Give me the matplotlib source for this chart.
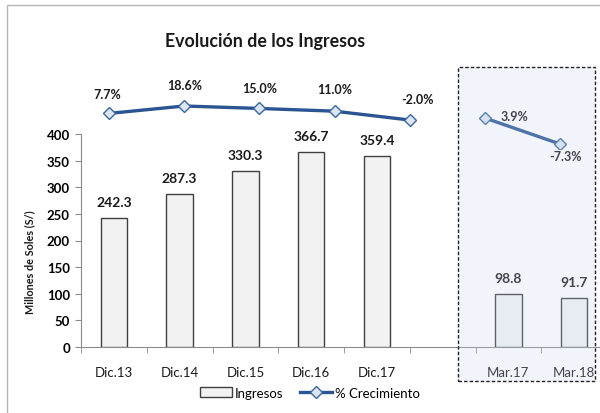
import matplotlib.pyplot as plt
from matplotlib.patches import Rectangle
from matplotlib.lines import Line2D

plt.rcParams['font.family'] = ['Lato', 'DejaVu Sans']

categorias = ["Dic.13", "Dic.14", "Dic.15", "Dic.16", "Dic.17", "", "Mar.17", "Mar.18"]
ingresos = [242.3, 287.3, 330.3, 366.7, 359.4, None, 98.8, 91.7]

crec_anual = [7.7, 18.6, 15.0, 11.0, -2.0]
crec_trim = [3.9, -7.3]
crec_etiquetas = ["7.7%", "18.6%", "15.0%", "11.0%", "-2.0%", "3.9%", "-7.3%"]

W, H = 600, 414


def px(x0, y0, x1, y1):
    # pixel box (top-left origin) -> figure fraction
    return [x0 / W, 1 - y1 / H, (x1 - x0) / W, (y1 - y0) / H]


fig = plt.figure(figsize=(W / 100, H / 100), dpi=100)

gris = '#8c8c8c'
linea_col = '#2a5592'

# barras
ax = fig.add_axes(px(81, 135, 607, 348))
xs = [i for i, v in enumerate(ingresos) if v is not None]
vals = [v for v in ingresos if v is not None]
barras = ax.bar(xs, vals, width=0.4, color='#f2f2f2', edgecolor='#404040', linewidth=1.0, zorder=3)
for x, v in zip(xs, vals):
    ax.annotate(f"{v:.1f}", (x, v), xytext=(0, 11.5), textcoords='offset points',
                ha='center', va='center', fontsize=10, fontweight='bold', color='#1a1a1a')

ax.set_xlim(-0.5, 7.5)
ax.set_ylim(0, 400)
ax.set_yticks(range(0, 401, 50))
ax.set_xticks(range(len(categorias)))
ax.set_xticklabels(categorias, fontsize=9.5, color='#1a1a1a')
ax.set_xticks([i - 0.5 for i in range(len(categorias) + 1)], minor=True)
ax.tick_params(axis='x', which='major', length=0, pad=14)
ax.tick_params(axis='x', which='minor', length=4, color=gris, direction='out')
ax.tick_params(axis='y', length=4, color=gris, labelsize=9.5, pad=4)
for lab in ax.get_yticklabels():
    lab.set_fontweight('bold')
for s in ['top', 'right']:
    ax.spines[s].set_visible(False)
for s in ['left', 'bottom']:
    ax.spines[s].set_color(gris)
ax.set_facecolor('none')

# lineas de crecimiento
estilo = dict(color=linea_col, lw=2.4, marker='D', markersize=6,
              markerfacecolor='#dce6f2', markeredgecolor='#3a66a0', markeredgewidth=1.0)

ax_l1 = fig.add_axes(px(71.4, 100, 597.6, 130))
ax_l1.plot(range(len(crec_anual)), crec_anual, **estilo)
ax_l1.set_xlim(-0.5, 6.5)
ax_l1.set_ylim(-15.2, 28.9)
ax_l1.axis('off')

ax_l2 = fig.add_axes(px(71.4, 110, 597.6, 150))
ax_l2.plot([5, 6], crec_trim, **estilo)
ax_l2.set_xlim(-0.5, 6.5)
ax_l2.set_ylim(-9.46, 7.78)
ax_l2.axis('off')

offs = [(-1.5, 13.7), (0, 15.1), (0, 14.4), (0, 15.8), (5.8, 15.0)]
for i, (v, o) in enumerate(zip(crec_anual, offs)):
    ax_l1.annotate(crec_etiquetas[i], (i, v), xytext=o, textcoords='offset points',
                   ha='center', va='center', fontsize=9, fontweight='bold', color='#1a1a1a',
                   annotation_clip=False)
offs2 = [(21.6, 1.4), (3.6, -8.6)]
for j, (v, o) in enumerate(zip(crec_trim, offs2)):
    ax_l2.annotate(crec_etiquetas[5 + j], (5 + j, v), xytext=o, textcoords='offset points',
                   ha='center', va='center', fontsize=9, fontweight='bold', color='#1a1a1a',
                   annotation_clip=False)

# titulo y etiqueta eje
fig.text(265 / W, 1 - 42 / H, "Evolución de los Ingresos", ha='center', va='center',
         fontsize=12.8, fontweight='bold', color='#1a1a1a')
fig.text(30 / W, 1 - 262 / H, "Millones de Soles (S/)", rotation=90, ha='center', va='center',
         fontsize=7.8, fontweight='bold', color='#1a1a1a')

# recuadro trimestral
fig.patches.append(Rectangle((458 / W, 1 - 382 / H), (595 - 458) / W, (382 - 68) / H,
                             transform=fig.transFigure, facecolor='#c6d8f2', alpha=0.23,
                             edgecolor='none', zorder=5))
fig.patches.append(Rectangle((458 / W, 1 - 382 / H), (595 - 458) / W, (382 - 68) / H,
                             transform=fig.transFigure, facecolor='none', edgecolor='#222222',
                             linestyle=(0, (2.5, 1.5)), linewidth=1.0, zorder=6))
# borde del grafico
fig.patches.append(Rectangle((7 / W, -0.05), 1.1, 1 - 6 / H + 0.05, transform=fig.transFigure,
                             facecolor='none', edgecolor='#b5b5b5', linewidth=1.0, zorder=6))

# leyenda
h_bar = Rectangle((0, 0), 1, 1, facecolor='#f2f2f2', edgecolor='#404040', linewidth=1.0)
h_lin = Line2D([], [], **estilo)
fig.legend([h_bar, h_lin], ["Ingresos", "% Crecimiento"], loc='center',
           bbox_to_anchor=(310 / W, 1 - 394 / H), ncol=2, frameon=False, fontsize=9.5,
           handlelength=2.4, handleheight=0.8, handletextpad=0.2, columnspacing=1.3)

fig.savefig("out.png", dpi=100)
